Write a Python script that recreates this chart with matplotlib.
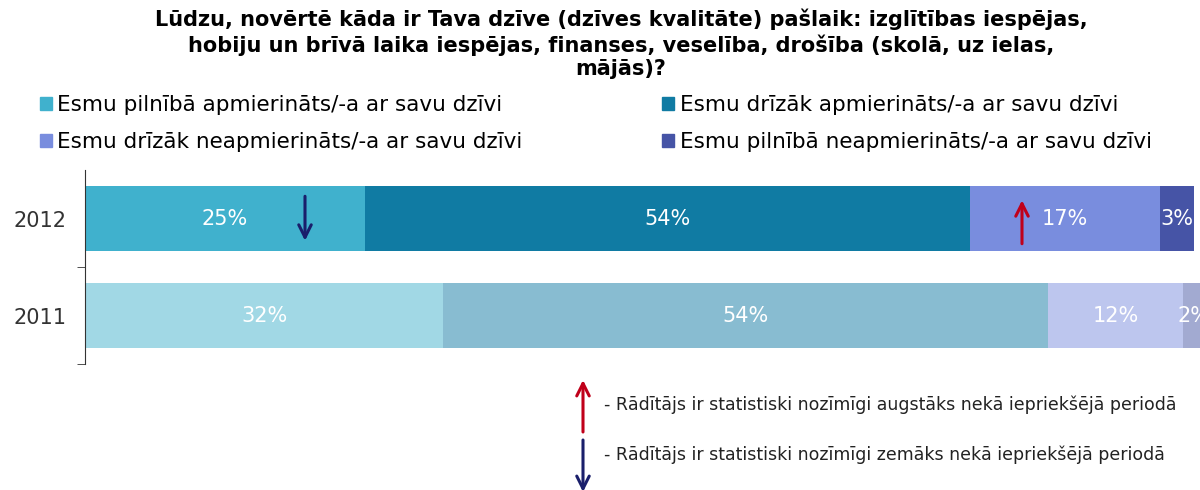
import matplotlib.pyplot as plt
from matplotlib.patches import FancyArrowPatch
from matplotlib.transforms import offset_copy
import numpy as np

plt.rcParams['font.family'] = ['DejaVu Sans']

title = ("Lūdzu, novērtē kāda ir Tava dzīve (dzīves kvalitāte) pašlaik: izglītības iespējas,\n"
         "hobiju un brīvā laika iespējas, finanses, veselība, drošība (skolā, uz ielas,\n"
         "mājās)?")
years = ["2011", "2012"]
categories = ["Esmu pilnībā apmierināts/-a ar savu dzīvi",
              "Esmu drīzāk apmierināts/-a ar savu dzīvi",
              "Esmu drīzāk neapmierināts/-a ar savu dzīvi",
              "Esmu pilnībā neapmierināts/-a ar savu dzīvi"]
vals_2011 = [32, 54, 12, 2]
vals_2012 = [25, 54, 17, 3]
colors_2012 = ["#40B1CD", "#107BA3", "#798DDE", "#4654A6"]
colors_2011 = ["#A1D8E5", "#88BCD1", "#BDC6EE", "#A2AAD1"]
# significance marks on the 2012 bar: (segment index, direction, x offset in px from segment centre)
signif = [(0, "down", 80), (2, "up", -43)]
note_up = "- Rādītājs ir statistiski nozīmīgi augstāks nekā iepriekšējā periodā"
note_down = "- Rādītājs ir statistiski nozīmīgi zemāks nekā iepriekšējā periodā"

RED = "#C0001A"
NAVY = "#1A1F6B"
arrow_style = dict(arrowstyle='->,head_length=0.9,head_width=0.45', lw=2.2)

fig = plt.figure(figsize=(12, 4.9), dpi=100)
ax = fig.add_axes([85 / 1200, 1 - 364 / 490, 1120 / 1200, 194 / 490])
ax.set_xlim(0, 100)
ax.set_ylim(-0.5, 1.5)

data = {0: (vals_2011, colors_2011), 1: (vals_2012, colors_2012)}
for yi, (vals, cols) in data.items():
    left = 0
    for v, c in zip(vals, cols):
        ax.barh(yi, v, left=left, height=0.66, color=c, edgecolor='none')
        ax.text(left + v / 2, yi, f"{v}%", ha='center', va='center',
                color='white', fontsize=15)
        left += v

# arrows on 2012 bar
starts = np.cumsum([0] + vals_2012[:-1])
for seg, d, off in signif:
    cx = starts[seg] + vals_2012[seg] / 2
    col = NAVY if d == "down" else RED
    y0, y1 = (25, -25) if d == "down" else (-28, 21)
    ax.annotate("", xy=(cx, 1), xycoords=offset_copy(ax.transData, fig, x=off, y=y1, units='dots'),
                xytext=(cx, 1), textcoords=offset_copy(ax.transData, fig, x=off, y=y0, units='dots'),
                arrowprops=dict(color=col, **arrow_style))

ax.set_yticks([0, 1])
ax.set_yticklabels(years, fontsize=15, color='#333333')
ax.tick_params(axis='y', which='major', length=0, pad=13)
ax.set_yticks([-0.5, 0.5], minor=True)
ax.tick_params(axis='y', which='minor', length=6, color='#333333')
ax.set_xticks([])
for s in ['top', 'right', 'bottom']:
    ax.spines[s].set_visible(False)
ax.spines['left'].set_color('#333333')

fig.text(621 / 1200, 1 - 9 / 490, title, ha='center', va='top',
         fontsize=15, fontweight='bold', linespacing=1.2)

handles = [plt.Rectangle((0, 0), 1, 1, color=c) for c in colors_2012]
order = [0, 2, 1, 3]
fig.legend([handles[i] for i in order], [categories[i] for i in order],
           ncol=2, loc='upper left', bbox_to_anchor=(40 / 1200, 1 - 95 / 490),
           frameon=False, fontsize=15.5, handlelength=0.55, handleheight=0.55,
           handletextpad=0.25, columnspacing=6.5, labelspacing=0.8,
           borderaxespad=0, borderpad=0)

# bottom note with arrows
for col, txt, ytop, ybot, ytxt in [(RED, note_up, 380, 432, 405),
                                   (NAVY, note_down, 440, 492, 455)]:
    top, bot = (583, 490 - ytop), (583, 490 - ybot)
    s, e = (bot, top) if col == RED else (top, bot)
    fig.add_artist(FancyArrowPatch(
        s, e, transform=None, mutation_scale=1, shrinkA=0, shrinkB=0,
        arrowstyle='->,head_length=9,head_width=4.5', color=col, lw=2.2))
    fig.text(604 / 1200, 1 - ytxt / 490, txt, ha='left', va='center',
             fontsize=12.5, color='#222222')

fig.savefig("out.png", dpi=100)
